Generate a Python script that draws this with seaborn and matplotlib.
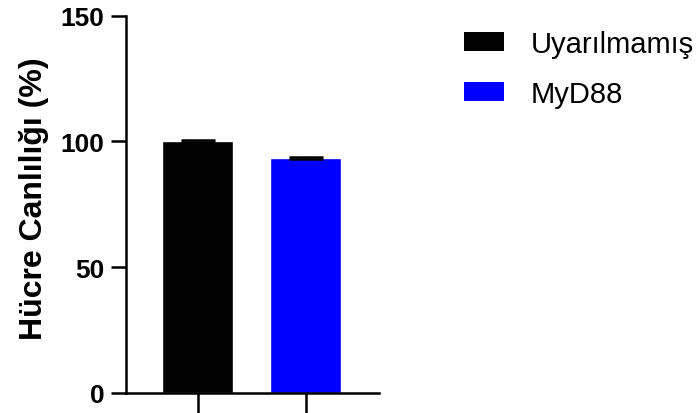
import matplotlib
matplotlib.use("Agg")
import matplotlib.pyplot as plt
import seaborn as sns
import pandas as pd
from matplotlib.patches import Patch

# Viability data (mean ± SEM)
groups = ["Uyarılmamış", "MyD88"]
viability = [100.2, 93.4]
sem = [0.3, 0.4]
colors = ["#000000", "#0000FF"]
y_ticks = [0, 50, 100, 150]
y_label = "Hücre Canlılığı (%)"

sns.set_theme(style="ticks")
plt.rcParams["font.family"] = ["Liberation Sans", "DejaVu Sans"]
plt.rcParams.update({
    "text.color": "black",
    "axes.labelcolor": "black",
    "xtick.color": "black",
    "ytick.color": "black",
})

df = pd.DataFrame({"grup": groups, "canlilik": viability})

fig = plt.figure(figsize=(7.0, 4.14), dpi=100)
ax = fig.add_axes([126 / 700, 1 - 394 / 414, (379 - 126) / 700, (394 - 16.5) / 414])

sns.barplot(data=df, x="grup", y="canlilik", hue="grup", palette=colors,
            order=groups, hue_order=groups, width=0.66, errorbar=None,
            legend=False, dodge=False, ax=ax, saturation=1)

ax.errorbar(range(len(groups)), viability, yerr=sem, fmt="none",
            ecolor="black", elinewidth=1.8, capsize=12.5, capthick=1.8, zorder=5)

ax.set_xlim(-0.664, 1.679)
ax.set_ylim(0, 150)
ax.set_yticks(y_ticks)
ax.set_yticklabels([str(t) for t in y_ticks], fontsize=19, fontweight="bold")
ax.set_xticks(range(len(groups)))
ax.set_xticklabels([])
ax.set_xlabel("")
ax.set_ylabel(y_label, fontsize=23, fontweight="bold")
ax.yaxis.set_label_coords(-0.304, 0.517)

for side in ["top", "right"]:
    ax.spines[side].set_visible(False)
for side in ["left", "bottom"]:
    ax.spines[side].set_linewidth(1.8)
    ax.spines[side].set_color("black")
ax.tick_params(axis="y", width=1.8, length=10.5, color="black", pad=5)
ax.tick_params(axis="x", width=1.8, length=15, color="black")
ax.spines["bottom"].set_zorder(6)

# Legend with rectangular swatches to the right of the axes
handles = [Patch(facecolor=c, edgecolor="none") for c in colors]
fig.legend(handles, groups, loc="upper left", bbox_to_anchor=(464 / 700, 1 - 31 / 414),
           frameon=False, fontsize=21, handlelength=1.38, handleheight=0.62,
           handletextpad=0.9, labelspacing=0.75, borderpad=0, borderaxespad=0)

fig.savefig("out.png", dpi=100)
